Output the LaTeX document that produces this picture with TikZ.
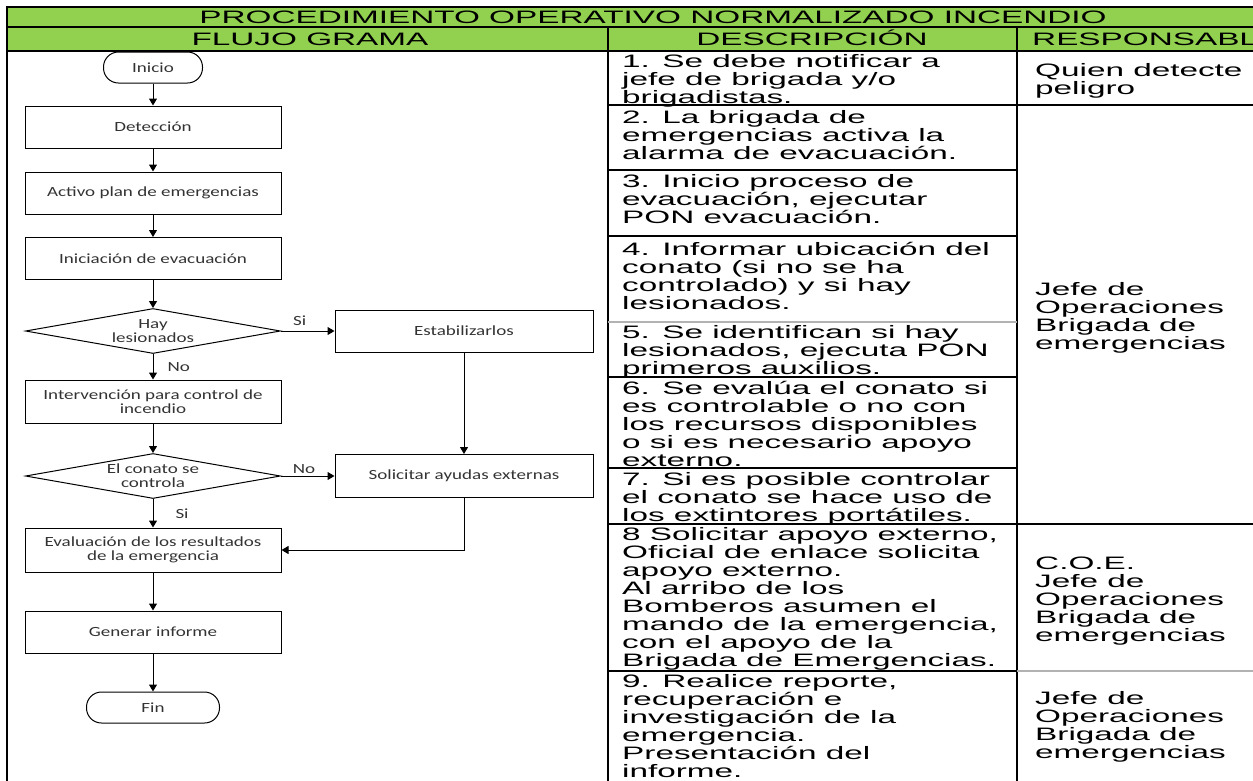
\documentclass[tikz,border=0pt]{standalone}
\usepackage{fontspec}
\newfontfamily\tabfont{Liberation Sans}[FakeStretch=1.85]
\newfontfamily\flowfont{Carlito}[FakeStretch=1.36]
\usepackage{tikz}
\usetikzlibrary{shapes, arrows.meta, positioning}
\usepackage{xcolor}
\definecolor{verde}{HTML}{92D050}

\begin{document}
\begin{tikzpicture}[x=1pt, y=1pt]
		\tikzstyle{caja}=[
		draw,
		rectangle,
		line width=1pt,
		align=center,
		minimum width=256pt,
		minimum height=42pt,
		text=black!80,
		font=\flowfont\fontsize{14}{14}\selectfont]
		\tikzstyle{terminal}=[
		caja,
		rounded corners=15pt,
		minimum width=99pt,
		minimum height=31pt]
		\tikzstyle{rombo}=[
		caja,
		diamond,
		aspect=5.6,
		inner sep=0pt,
		minimum width=255pt,
		minimum height=45pt]
		\tikzstyle{flecha}=[-{Triangle[length=7pt, width=8pt]}, line width=1pt]
		\tikzstyle{etiqueta}=[inner sep=2pt, text=black!80, font=\flowfont\fontsize{14}{14}\selectfont]
		\tikzstyle{celda}=[inner sep=0pt, align=left, font=\tabfont\fontsize{18}{18}\selectfont]
		\tikzstyle{desc}=[celda, anchor=north west]
		\tikzstyle{resp}=[celda, anchor=west]
		\tikzstyle{titulo}=[celda, anchor=base]
		\tikzstyle{borde}=[line width=1.3pt]
		\tikzstyle{gris}=[line width=1.3pt, gray!60]
		%
		\useasboundingbox (0,0) rectangle (1253,-780);
		\clip (0,0) rectangle (1253,-780);
		%
		\fill[verde] (7,-7) rectangle (1260,-51);
		\draw[borde] (1260,-7) -- (7,-7) -- (7,-785);
		\draw[borde] (7,-27) -- (1260,-27);
		\draw[borde] (7,-51) -- (1260,-51);
		\draw[borde] (608,-27) -- (608,-785);
		\draw[borde] (1017,-27) -- (1017,-785);
		\foreach \y in {105,170,236,377,468,524,671}
			\draw[borde] (608,-\y) -- (1017,-\y);
		\draw[gris] (608,-322) -- (1017,-322);
		\foreach \y in {105,524}
			\draw[borde] (1017,-\y) -- (1260,-\y);
		\draw[gris] (1017,-671) -- (1260,-671);
		%
		\node[titulo] (titulo) at (653,-23.5) {PROCEDIMIENTO OPERATIVO NORMALIZADO INCENDIO};
		\node[titulo] (hflujo) at (310,-45.5) {FLUJO GRAMA};
		\node[titulo] (hdesc) at (812,-45.5) {DESCRIPCIÓN};
		\node[titulo, anchor=base west] (hresp) at (1032,-45.5) {RESPONSABLE};
		%
		\node[desc] (d1) at (622,-54.5) {1. Se debe notificar a\\jefe de brigada y/o\\brigadistas.};
		\node[desc] (d2) at (622,-110.5) {2. La brigada de\\emergencias activa la\\alarma de evacuación.};
		\node[desc] (d3) at (622,-174.5) {3. Inicio proceso de\\evacuación, ejecutar\\PON evacuación.};
		\node[desc] (d4) at (622,-242.5) {4. Informar ubicación del\\conato (si no se ha\\controlado) y si hay\\lesionados.};
		\node[desc] (d5) at (622,-325.5) {5. Se identifican si hay\\lesionados, ejecuta PON\\primeros auxilios.};
		\node[desc] (d6) at (622,-381.5) {6. Se evalúa el conato si\\es controlable o no con\\los recursos disponibles\\o si es necesario apoyo\\externo.};
		\node[desc] (d7) at (622,-472.5) {7. Si es posible controlar\\el conato se hace uso de\\los extintores portátiles.};
		\node[desc] (d8) at (622,-527.5) {8 Solicitar apoyo externo,\\Oficial de enlace solicita\\apoyo externo.\\Al arribo de los\\Bomberos asumen el\\mando de la emergencia,\\con el apoyo de la\\Brigada de Emergencias.};
		\node[desc] (d9) at (622,-674.5) {9. Realice reporte,\\recuperación e\\investigación de la\\emergencia.\\Presentación del\\informe.};
		%
		\node[resp] (r1) at (1035,-81) {Quien detecte\\peligro};
		\node[resp] (r2) at (1035,-318) {Jefe de\\Operaciones\\Brigada de\\emergencias};
		\node[resp] (r3) at (1035,-601) {C.O.E.\\Jefe de\\Operaciones\\Brigada de\\emergencias};
		\node[resp] (r4) at (1035,-727) {Jefe de\\Operaciones\\Brigada de\\emergencias};
		%
		\node[terminal] (inicio) at (153,-67.5) {Inicio};
		\node[caja, below of=inicio, node distance=59.5pt] (deteccion) {Detección};
		\node[caja, below of=deteccion, node distance=66pt] (plan) {Activo plan de emergencias};
		\node[caja, below of=plan, node distance=65.5pt] (evacuacion) {Iniciación de evacuación};
		\node[rombo, below of=evacuacion, node distance=72.5pt] (lesionados) {Hay\\lesionados};
		\node[caja, right of=lesionados, node distance=311pt, minimum width=258pt] (estabilizar) {Estabilizarlos};
		\node[caja, below of=lesionados, node distance=70.5pt, minimum height=43pt] (intervencion) {Intervención para control de\\incendio};
		\node[rombo, below of=intervencion, node distance=74.5pt] (conato) {El conato se\\controla};
		\node[caja, below of=estabilizar, node distance=145pt, minimum width=258pt, minimum height=43pt] (ayudas) {Solicitar ayudas externas};
		\node[caja, below of=conato, node distance=74pt, minimum height=44pt] (evaluacion) {Evaluación de los resultados\\de la emergencia};
		\node[caja, below of=evaluacion, node distance=82pt] (informe) {Generar informe};
		\node[terminal, below of=informe, node distance=75.5pt, minimum width=133pt] (fin) {Fin};
		%
		\draw[flecha] (inicio) -- (deteccion);
		\draw[flecha] (deteccion) -- (plan);
		\draw[flecha] (plan) -- (evacuacion);
		\draw[flecha] (evacuacion) -- (lesionados);
		\draw[flecha] (lesionados) -- node[etiqueta, above=3pt, pos=0.35] {Si} (estabilizar);
		\draw[flecha] (lesionados) -- node[etiqueta, right=12pt] {No} (intervencion);
		\draw[flecha] (intervencion) -- (conato);
		\draw[flecha] (estabilizar) -- (ayudas);
		\draw[flecha] (conato) -- node[etiqueta, above=0pt, pos=0.43] {No} (ayudas);
		\draw[flecha] (conato) -- node[etiqueta, right=20pt] {Si} (evaluacion);
		\draw[flecha] (ayudas) |- (evaluacion);
		\draw[flecha] (evaluacion) -- (informe);
		\draw[flecha] (informe) -- (fin);
	\end{tikzpicture}
\end{document}
